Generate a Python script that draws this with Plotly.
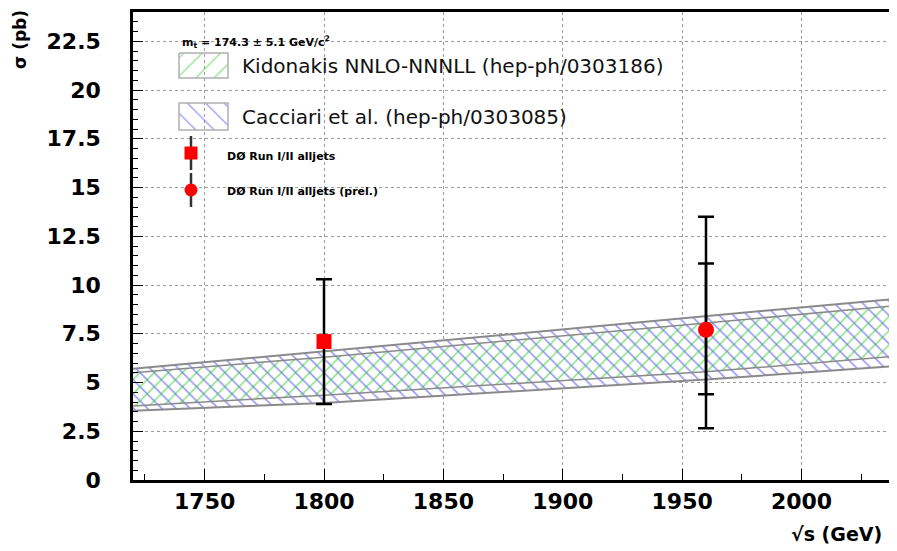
import plotly.graph_objects as go

# ---------------- data ----------------
energy = [1720, 1800, 1960, 2040]                 # sqrt(s) in GeV
kidonakis_low = [3.8, 4.35, 5.55, 6.35]           # pb
kidonakis_high = [5.5, 6.3, 8.05, 8.95]
cacciari_low = [3.55, 3.95, 5.15, 5.85]
cacciari_high = [5.7, 6.6, 8.4, 9.3]

run1_energy = [1800]
run1_xsec = [7.1]
run1_err = [3.2]

run2_energy = [1960]
run2_xsec = [7.7]
run2_stat_up = [3.4]
run2_stat_down = [3.3]
run2_total_up = [5.8]
run2_total_down = [5.05]

y_ticks = [0, 2.5, 5, 7.5, 10, 12.5, 15, 17.5, 20, 22.5]
y_tick_labels = ["0", "2.5", "5", "7.5", "10", "12.5", "15", "17.5", "20", "22.5"]
x_ticks = [1750, 1800, 1850, 1900, 1950, 2000]
x_tick_labels = ["1750", "1800", "1850", "1900", "1950", "2000"]

legend_kidonakis = "Kidonakis NNLO-NNNLL (hep-ph/0303186)"
legend_cacciari = "Cacciari et al. (hep-ph/0303085)"
legend_run1 = "DØ Run I/II alljets"
legend_run2 = "DØ Run I/II alljets (prel.)"
mass_note = "m<sub>t</sub> = 174.3 ± 5.1 GeV/c<sup>2</sup>"
x_title = "√s (GeV)"
y_title = "σ (pb)"

# ---------------- styles / layout constants ----------------
FONT = "DejaVu Sans"
OFF = 8                      # default body margin of the html page
PAGE_W, PAGE_H = 897, 551
W = PAGE_W - OFF
H = PAGE_H - OFF
PX_LEFT, PX_RIGHT, PX_TOP, PX_BOTTOM = 133, 897, 12, 480   # plot box in page pixels
L = PX_LEFT - OFF
T = PX_TOP - OFF
R = W - (PX_RIGHT - OFF)
B = H - (PX_BOTTOM - OFF)

GREEN = "rgba(30,200,30,1)"
BLUE = "rgba(50,50,240,1)"
OUTLINE = "#8a8a8a"


def paper_x(px):
    return (px - PX_LEFT) / (PX_RIGHT - PX_LEFT)


def paper_y(py):
    return (PX_BOTTOM - py) / (PX_BOTTOM - PX_TOP)


fig = go.Figure()


def band(xs, lo, hi):
    return list(xs) + list(xs)[::-1], list(lo) + list(hi)[::-1]


bx, by = band(energy, cacciari_low, cacciari_high)
fig.add_trace(go.Scatter(
    x=bx, y=by, mode="lines", fill="toself",
    fillcolor="rgba(0,0,0,0)",
    fillpattern=dict(shape="\\", fgcolor=BLUE, bgcolor="white", size=10, solidity=0.16),
    line=dict(color=OUTLINE, width=2), showlegend=False, hoverinfo="skip"))

bx, by = band(energy, kidonakis_low, kidonakis_high)
fig.add_trace(go.Scatter(
    x=bx, y=by, mode="lines", fill="toself",
    fillcolor="rgba(0,0,0,0)",
    fillpattern=dict(shape="/", fgcolor=GREEN, bgcolor="rgba(0,0,0,0)", size=10, solidity=0.16),
    line=dict(color=OUTLINE, width=1.5), showlegend=False, hoverinfo="skip"))

# data points with error bars
fig.add_trace(go.Scatter(
    x=run1_energy, y=run1_xsec, mode="markers",
    marker=dict(symbol="square", size=15, color="red"),
    error_y=dict(type="data", array=run1_err, color="black", thickness=2.5, width=8),
    showlegend=False))

fig.add_trace(go.Scatter(
    x=run2_energy, y=run2_xsec, mode="markers",
    marker=dict(size=1, color="rgba(0,0,0,0)"),
    error_y=dict(type="data", symmetric=False, array=run2_total_up, arrayminus=run2_total_down,
                 color="black", thickness=2.5, width=8),
    showlegend=False))
fig.add_trace(go.Scatter(
    x=run2_energy, y=run2_xsec, mode="markers",
    marker=dict(symbol="circle", size=16, color="red"),
    error_y=dict(type="data", symmetric=False, array=run2_stat_up, arrayminus=run2_stat_down,
                 color="black", thickness=2.5, width=8),
    showlegend=False))

# ---------------- hand-drawn legend on a pixel overlay axis ----------------
def box(x0, x1, y0, y1):
    return [x0, x1, x1, x0, x0], [y0, y0, y1, y1, y0]


kx, ky = box(179, 228, 53, 78)
fig.add_trace(go.Scatter(
    x=kx, y=ky, xaxis="x2", yaxis="y2", mode="lines", fill="toself",
    fillcolor="rgba(0,0,0,0)",
    fillpattern=dict(shape="/", fgcolor=GREEN, bgcolor="rgba(0,0,0,0)", size=13, solidity=0.1),
    line=dict(color="#b0b0b0", width=1.5), showlegend=False, hoverinfo="skip"))
cx, cy = box(179, 228, 103, 130)
fig.add_trace(go.Scatter(
    x=cx, y=cy, xaxis="x2", yaxis="y2", mode="lines", fill="toself",
    fillcolor="rgba(0,0,0,0)",
    fillpattern=dict(shape="\\", fgcolor=BLUE, bgcolor="rgba(0,0,0,0)", size=13, solidity=0.1),
    line=dict(color="#b0b0b0", width=1.5), showlegend=False, hoverinfo="skip"))

fig.add_trace(go.Scatter(
    x=[191], y=[153], xaxis="x2", yaxis="y2", mode="markers",
    marker=dict(symbol="square", size=13, color="red"),
    error_y=dict(type="constant", value=17, color="#333", thickness=2.5, width=0),
    showlegend=False, hoverinfo="skip"))
fig.add_trace(go.Scatter(
    x=[191], y=[190], xaxis="x2", yaxis="y2", mode="markers",
    marker=dict(symbol="circle", size=13, color="red"),
    error_y=dict(type="constant", value=17, color="#333", thickness=2.5, width=0),
    showlegend=False, hoverinfo="skip"))

annotations = [
    dict(x=180, y=42, text=mass_note, font=dict(size=11, color="black", weight="bold")),
    dict(x=240, y=66, text=legend_kidonakis, font=dict(size=20, color="#111")),
    dict(x=240, y=117, text=legend_cacciari, font=dict(size=20, color="#111")),
    dict(x=225, y=156, text=legend_run1, font=dict(size=11, color="black", weight="bold")),
    dict(x=225, y=191, text=legend_run2, font=dict(size=11, color="black", weight="bold")),
]
for a in annotations:
    a.update(xref="x2", yref="y2", xanchor="left", yanchor="middle", showarrow=False)
    a["font"]["family"] = FONT

# axis titles (paper coordinates, outside the plot box)
annotations.append(dict(x=paper_x(20), y=paper_y(40), xref="paper", yref="paper", text=y_title,
                        textangle=-90, showarrow=False, xanchor="center", yanchor="middle",
                        font=dict(family=FONT, size=17, color="black", weight="bold")))
annotations.append(dict(x=paper_x(884), y=paper_y(534), xref="paper", yref="paper", text=x_title,
                        showarrow=False, xanchor="right", yanchor="middle",
                        font=dict(family=FONT, size=19, color="black", weight="bold")))

fig.update_layout(
    width=W, height=H,
    margin=dict(l=L, r=R, t=T, b=B, pad=0, autoexpand=False),
    paper_bgcolor="white", plot_bgcolor="white",
    showlegend=False,
    annotations=annotations,
    xaxis=dict(
        range=[1720, 2040], tickvals=x_ticks, ticktext=x_tick_labels,
        ticks="inside", ticklen=11, tickwidth=1, tickcolor="black",
        minor=dict(dtick=25, tick0=1700, ticks="inside", ticklen=6, tickcolor="black"),
        showline=True, linecolor="black", linewidth=2.5, mirror=True,
        showgrid=True, gridcolor="#9a9a9a", griddash="dot", gridwidth=1,
        zeroline=False, ticklabelstandoff=0, automargin=False,
        tickfont=dict(family=FONT, size=22, color="black", weight="bold"),
    ),
    yaxis=dict(
        range=[0, 24], tickvals=y_ticks, ticktext=y_tick_labels,
        ticks="inside", ticklen=10, tickwidth=1, tickcolor="black",
        minor=dict(dtick=0.5, tick0=0, ticks="inside", ticklen=5, tickcolor="black"),
        showline=True, linecolor="black", linewidth=2.5,
        showgrid=True, gridcolor="#9a9a9a", griddash="dot", gridwidth=1,
        zeroline=False, ticklabelstandoff=25, automargin=False,
        tickfont=dict(family=FONT, size=22, color="black", weight="bold"),
    ),
    xaxis2=dict(range=[PX_LEFT, PX_RIGHT], overlaying="x", anchor="y2", visible=False,
                showgrid=False, zeroline=False),
    yaxis2=dict(range=[PX_BOTTOM, PX_TOP], overlaying="y", anchor="x2", visible=False,
                showgrid=False, zeroline=False),
)

fig.write_html("out.html")
